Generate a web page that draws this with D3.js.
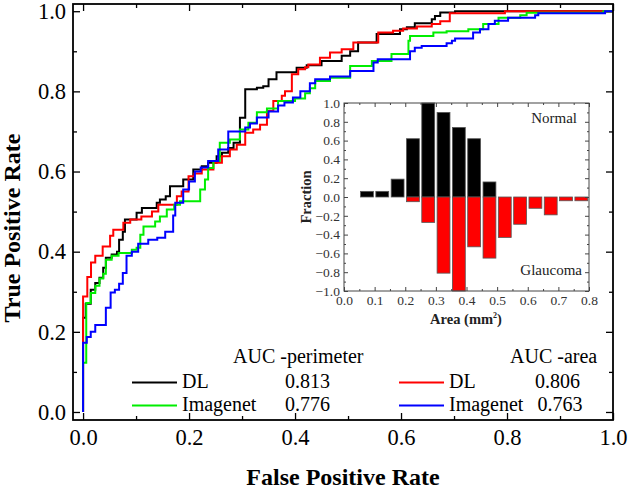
<!DOCTYPE html>
<html><head><meta charset="utf-8">
<script src="https://cdn.jsdelivr.net/npm/d3@7"></script>
<style>body{margin:0;background:#fff}svg{display:block}text{font-family:"Liberation Serif","Times New Roman",serif}</style>
</head><body><svg id="c" width="629" height="489"></svg>
<script>
// ROC curves: [FPR, TPR] corner points (step after)
const rocDLPerimeter = [[0,0],[0,0.235],[0.005,0.27],[0.0145,0.305],[0.023,0.322],[0.031,0.335],[0.038,0.36],[0.043,0.385],[0.054,0.393],[0.064,0.40],[0.068,0.43],[0.075,0.45],[0.079,0.48],[0.101,0.497],[0.111,0.509],[0.139,0.522],[0.145,0.53],[0.156,0.538],[0.164,0.563],[0.189,0.58],[0.208,0.605],[0.224,0.613],[0.236,0.622],[0.252,0.638],[0.262,0.647],[0.274,0.659],[0.284,0.672],[0.296,0.734],[0.306,0.805],[0.328,0.809],[0.340,0.813],[0.35,0.83],[0.365,0.848],[0.403,0.859],[0.422,0.865],[0.45,0.876],[0.488,0.889],[0.504,0.90],[0.519,0.922],[0.554,0.943],[0.598,0.955],[0.611,0.96],[0.626,0.97],[0.658,0.98],[0.664,0.988],[0.674,0.997],[0.702,1.0],[1,1]];
const rocDLArea = [[0,0],[0,0.288],[0.008,0.337],[0.015,0.373],[0.023,0.39],[0.037,0.413],[0.051,0.44],[0.057,0.455],[0.076,0.472],[0.089,0.48],[0.11,0.488],[0.13,0.50],[0.142,0.517],[0.177,0.538],[0.186,0.55],[0.199,0.588],[0.21,0.595],[0.224,0.605],[0.246,0.622],[0.262,0.638],[0.277,0.655],[0.29,0.667],[0.306,0.697],[0.321,0.705],[0.334,0.717],[0.347,0.751],[0.359,0.776],[0.375,0.789],[0.381,0.80],[0.394,0.843],[0.406,0.855],[0.419,0.86],[0.425,0.867],[0.447,0.884],[0.466,0.897],[0.488,0.905],[0.51,0.922],[0.557,0.947],[0.585,0.951],[0.604,0.957],[0.63,0.962],[0.658,0.968],[0.674,0.975],[0.692,0.995],[0.796,1.0],[1,1]];
const rocImagenetPerimeter = [[0,0],[0,0.123],[0.006,0.272],[0.0145,0.297],[0.023,0.315],[0.031,0.333],[0.038,0.345],[0.043,0.38],[0.054,0.39],[0.067,0.397],[0.092,0.405],[0.101,0.41],[0.108,0.4425],[0.114,0.463],[0.136,0.475],[0.145,0.488],[0.158,0.505],[0.172,0.517],[0.183,0.526],[0.221,0.555],[0.23,0.58],[0.236,0.609],[0.246,0.626],[0.258,0.672],[0.277,0.68],[0.296,0.705],[0.312,0.722],[0.328,0.748],[0.347,0.757],[0.368,0.776],[0.40,0.782],[0.419,0.795],[0.428,0.808],[0.438,0.826],[0.466,0.834],[0.504,0.863],[0.545,0.876],[0.582,0.893],[0.614,0.926],[0.617,0.938],[0.661,0.947],[0.686,0.95],[0.727,0.955],[0.755,0.968],[0.784,0.984],[0.825,0.99],[0.837,0.996],[0.982,1.0],[1,1]];
const rocImagenetArea = [[0,0],[0,0.173],[0.007,0.187],[0.0145,0.2],[0.023,0.217],[0.043,0.26],[0.052,0.298],[0.06,0.305],[0.068,0.32],[0.075,0.347],[0.082,0.39],[0.092,0.40],[0.104,0.42],[0.123,0.43],[0.14,0.435],[0.155,0.45],[0.170,0.49],[0.174,0.522],[0.189,0.555],[0.20,0.575],[0.211,0.60],[0.222,0.61],[0.236,0.626],[0.255,0.655],[0.274,0.70],[0.306,0.71],[0.315,0.72],[0.328,0.735],[0.35,0.75],[0.368,0.765],[0.38,0.772],[0.396,0.785],[0.41,0.80],[0.428,0.82],[0.438,0.83],[0.466,0.837],[0.504,0.851],[0.548,0.872],[0.556,0.88],[0.617,0.90],[0.626,0.909],[0.639,0.913],[0.686,0.92],[0.696,0.926],[0.702,0.932],[0.736,0.947],[0.749,0.955],[0.765,0.968],[0.777,0.976],[0.802,0.984],[0.853,0.99],[0.859,0.995],[0.985,1.0],[1,1]];

const seriesNames = ["DL", "Imagenet", "DL", "Imagenet"];
const aucValues = ["0.813", "0.776", "0.806", "0.763"];
const seriesColors = ["#000000", "#00ee00", "#ff0000", "#0000ff"];

const mainTicks = [0, 0.2, 0.4, 0.6, 0.8, 1.0];
const mainMinorTicks = [0.1, 0.3, 0.5, 0.7, 0.9];

// Inset histogram
const binCenters = [0.075,0.125,0.175,0.225,0.275,0.325,0.375,0.425,0.475,0.525,0.575,0.625,0.675,0.725,0.775];
const normalFraction = [0.06,0.06,0.19,0.62,1.0,0.90,0.74,0.62,0.16,0,0,0,0,0,0];
const glaucomaFraction = [0,0,0,-0.05,-0.27,-0.81,-1.0,-0.53,-0.65,-0.43,-0.29,-0.12,-0.19,-0.04,-0.04];
const insetXTicks = [0,0.1,0.2,0.3,0.4,0.5,0.6,0.7,0.8];
const insetXMinor = [0.05,0.15,0.25,0.35,0.45,0.55,0.65,0.75];
const insetYTicks = [-1,-0.8,-0.6,-0.4,-0.2,0,0.2,0.4,0.6,0.8,1.0];
const insetYMinor = [-0.9,-0.7,-0.5,-0.3,-0.1,0.1,0.3,0.5,0.7,0.9];

const svg = d3.select("#c");
const fmt = d3.format(".1f");

// main scales
const x = d3.scaleLinear().domain([-0.019, 1]).range([73, 613]);
const y = d3.scaleLinear().domain([-0.02, 1.018]).range([420, 4]);
const L = 73, R = 613, T = 4, B = 420;

function styleAxis(g, size, color) {
  g.select(".domain").remove();
  g.selectAll("line").attr("stroke", color).attr("stroke-width", 1.3);
  g.selectAll("text").attr("font-size", size).attr("fill", color)
    .attr("font-family", "Liberation Serif");
}

// bottom
svg.append("g").attr("transform", `translate(0,${B})`)
  .call(d3.axisBottom(x).tickValues(mainTicks).tickSizeInner(-7).tickSizeOuter(0).tickPadding(9).tickFormat(fmt))
  .call(g => styleAxis(g, 22.5, "#000"));
svg.append("g").attr("transform", `translate(0,${B})`)
  .call(d3.axisBottom(x).tickValues(mainMinorTicks).tickSizeInner(-4).tickSizeOuter(0).tickFormat(""))
  .call(g => styleAxis(g, 22, "#000"));
// top
svg.append("g").attr("transform", `translate(0,${T})`)
  .call(d3.axisTop(x).tickValues(mainTicks).tickSizeInner(-7).tickSizeOuter(0).tickFormat(""))
  .call(g => styleAxis(g, 22, "#000"));
svg.append("g").attr("transform", `translate(0,${T})`)
  .call(d3.axisTop(x).tickValues(mainMinorTicks).tickSizeInner(-4).tickSizeOuter(0).tickFormat(""))
  .call(g => styleAxis(g, 22, "#000"));
// left
svg.append("g").attr("transform", `translate(${L},0)`)
  .call(d3.axisLeft(y).tickValues(mainTicks).tickSizeInner(-7).tickSizeOuter(0).tickPadding(7).tickFormat(fmt))
  .call(g => styleAxis(g, 22.5, "#000"));
svg.append("g").attr("transform", `translate(${L},0)`)
  .call(d3.axisLeft(y).tickValues(mainMinorTicks).tickSizeInner(-4).tickSizeOuter(0).tickFormat(""))
  .call(g => styleAxis(g, 22, "#000"));
// right
svg.append("g").attr("transform", `translate(${R},0)`)
  .call(d3.axisRight(y).tickValues(mainTicks).tickSizeInner(-7).tickSizeOuter(0).tickFormat(""))
  .call(g => styleAxis(g, 22, "#000"));
svg.append("g").attr("transform", `translate(${R},0)`)
  .call(d3.axisRight(y).tickValues(mainMinorTicks).tickSizeInner(-4).tickSizeOuter(0).tickFormat(""))
  .call(g => styleAxis(g, 22, "#000"));

// curves
const line = d3.line().x(d => x(d[0])).y(d => y(d[1])).curve(d3.curveStepAfter);
const curves = [rocDLPerimeter, rocDLArea, rocImagenetPerimeter, rocImagenetArea];
const curveColors = [seriesColors[0], seriesColors[2], seriesColors[1], seriesColors[3]];
curves.forEach((c, i) => {
  svg.append("path").datum(c).attr("d", line).attr("fill", "none")
    .attr("stroke", curveColors[i]).attr("stroke-width", 2).attr("stroke-linejoin", "miter");
});

// frame
svg.append("rect").attr("x", L).attr("y", T).attr("width", R - L).attr("height", B - T)
  .attr("fill", "none").attr("stroke", "#000").attr("stroke-width", 1.8);

// axis titles
svg.append("text").attr("x", 343).attr("y", 485).attr("text-anchor", "middle")
  .attr("font-size", 24).attr("font-weight", "bold").text("False Positive Rate");
svg.append("text").attr("transform", "translate(20,228) rotate(-90)").attr("text-anchor", "middle")
  .attr("font-size", 24).attr("font-weight", "bold").text("True Positive Rate");

// legend
const lg = svg.append("g").attr("font-size", 20);
lg.append("text").attr("x", 233).attr("y", 363).text("AUC -perimeter");
lg.append("text").attr("x", 510).attr("y", 363).text("AUC -area");
const legendPos = [
  {x1: 132, x2: 177, ly: 382.5, tx: 182, ty: 388, vx: 285},
  {x1: 132, x2: 177, ly: 405.5, tx: 182, ty: 411, vx: 285},
  {x1: 399, x2: 444, ly: 382.5, tx: 449, ty: 388, vx: 535},
  {x1: 399, x2: 444, ly: 405.5, tx: 449, ty: 411, vx: 537.5}
];
legendPos.forEach((p, i) => {
  lg.append("line").attr("x1", p.x1).attr("x2", p.x2).attr("y1", p.ly).attr("y2", p.ly)
    .attr("stroke", seriesColors[i]).attr("stroke-width", 2);
  lg.append("text").attr("x", p.tx).attr("y", p.ty).text(seriesNames[i]);
  lg.append("text").attr("x", p.vx).attr("y", p.ty).text(aucValues[i]);
});

// inset
const ix = d3.scaleLinear().domain([0, 0.8]).range([344, 589]);
const iy = d3.scaleLinear().domain([-1, 1]).range([291, 103]);
const inset = svg.append("g");
inset.append("rect").attr("x", 344).attr("y", 103).attr("width", 245).attr("height", 188).attr("fill", "#fff");
const bw = 0.021;
inset.selectAll("rect.n").data(binCenters.map((c, i) => ({c, v: normalFraction[i]})).filter(d => d.v > 0))
  .join("rect").attr("class", "n")
  .attr("x", d => ix(d.c - bw)).attr("width", d => ix(d.c + bw) - ix(d.c - bw))
  .attr("y", d => iy(d.v)).attr("height", d => iy(0) - iy(d.v))
  .attr("fill", "#000").attr("stroke", "#555").attr("stroke-width", 0.8);
inset.selectAll("rect.g").data(binCenters.map((c, i) => ({c, v: glaucomaFraction[i]})).filter(d => d.v < 0))
  .join("rect").attr("class", "g")
  .attr("x", d => ix(d.c - bw)).attr("width", d => ix(d.c + bw) - ix(d.c - bw))
  .attr("y", iy(0)).attr("height", d => iy(d.v) - iy(0))
  .attr("fill", "#ff0000").attr("stroke", "#555").attr("stroke-width", 0.8);

const ic = "#444";
function styleInset(g) {
  g.select(".domain").remove();
  g.selectAll("line").attr("stroke", ic).attr("stroke-width", 1);
  g.selectAll("text").attr("font-size", 13.5).attr("fill", "#333").attr("font-family", "Liberation Serif");
}
const ifmt = d => fmt(d).replace("-0.0", "0.0");
inset.append("g").attr("transform", "translate(0,291)")
  .call(d3.axisBottom(ix).tickValues(insetXTicks).tickSizeInner(-4).tickSizeOuter(0).tickPadding(4).tickFormat(ifmt)).call(styleInset);
inset.append("g").attr("transform", "translate(0,291)")
  .call(d3.axisBottom(ix).tickValues(insetXMinor).tickSizeInner(-2).tickSizeOuter(0).tickFormat("")).call(styleInset);
inset.append("g").attr("transform", "translate(0,103)")
  .call(d3.axisTop(ix).tickValues(insetXTicks).tickSizeInner(-4).tickSizeOuter(0).tickFormat("")).call(styleInset);
inset.append("g").attr("transform", "translate(0,103)")
  .call(d3.axisTop(ix).tickValues(insetXMinor).tickSizeInner(-2).tickSizeOuter(0).tickFormat("")).call(styleInset);
inset.append("g").attr("transform", "translate(344,0)")
  .call(d3.axisLeft(iy).tickValues(insetYTicks).tickSizeInner(-4).tickSizeOuter(0).tickPadding(4).tickFormat(ifmt)).call(styleInset);
inset.append("g").attr("transform", "translate(344,0)")
  .call(d3.axisLeft(iy).tickValues(insetYMinor).tickSizeInner(-2).tickSizeOuter(0).tickFormat("")).call(styleInset);
inset.append("g").attr("transform", "translate(589,0)")
  .call(d3.axisRight(iy).tickValues(insetYTicks).tickSizeInner(-4).tickSizeOuter(0).tickFormat("")).call(styleInset);
inset.append("g").attr("transform", "translate(589,0)")
  .call(d3.axisRight(iy).tickValues(insetYMinor).tickSizeInner(-2).tickSizeOuter(0).tickFormat("")).call(styleInset);
inset.append("rect").attr("x", 344).attr("y", 103).attr("width", 245).attr("height", 188)
  .attr("fill", "none").attr("stroke", ic).attr("stroke-width", 1);

inset.append("text").attr("x", 577).attr("y", 123).attr("text-anchor", "end").attr("font-size", 15).attr("fill", "#222").text("Normal");
inset.append("text").attr("x", 582).attr("y", 275).attr("text-anchor", "end").attr("font-size", 15).attr("fill", "#222").text("Glaucoma");
const at = inset.append("text").attr("x", 466).attr("y", 324).attr("text-anchor", "middle")
  .attr("font-size", 14.5).attr("font-weight", "bold").attr("fill", "#222");
at.append("tspan").text("Area (mm");
at.append("tspan").attr("dy", -6).attr("font-size", 8).text("2");
at.append("tspan").attr("dy", 6).text(")");
inset.append("text").attr("transform", "translate(311,197) rotate(-90)").attr("text-anchor", "middle")
  .attr("font-size", 14.5).attr("font-weight", "bold").attr("fill", "#222").text("Fraction");
</script></body></html>
